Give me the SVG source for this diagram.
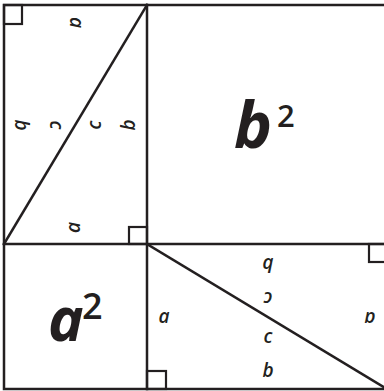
<svg xmlns="http://www.w3.org/2000/svg" width="384" height="391" viewBox="0 0 384 391">
<style>
.ln{fill:none;stroke:#231f20;stroke-width:2.5;stroke-linecap:square}
.ra{fill:none;stroke:#231f20;stroke-width:2.2}
.lbl{font-family:"Open Sans","Noto Sans",sans-serif;font-style:italic;font-weight:600;font-size:19px;fill:#231f20;text-anchor:middle}
.big{font-family:"Open Sans","Noto Sans",sans-serif;font-style:italic;font-weight:700;fill:#231f20}
.sup{font-family:"Open Sans","Noto Sans",sans-serif;font-weight:600;fill:#231f20}
</style>
<rect width="384" height="391" fill="#ffffff"/>
<g id="frame">
<rect class="ln" x="4" y="5" width="383" height="384"/>
<line class="ln" x1="147" y1="5" x2="147" y2="389"/>
<line class="ln" x1="4" y1="244" x2="387" y2="244"/>
</g>
<g id="rect-top-left">
<line class="ln" x1="4" y1="244" x2="147" y2="5"/>
<rect class="ra" x="4" y="5" width="18" height="19"/>
<rect class="ra" x="129" y="227" width="18" height="17"/>
<text class="lbl" x="75" y="27.5" transform="rotate(90 75 22.5)">a</text>
<text class="lbl" x="22" y="132.5" transform="rotate(90 22 125)">b</text>
<text class="lbl" x="55" y="130" transform="rotate(90 55 125)">c</text>
<text class="lbl" x="96" y="130" transform="rotate(-90 96 125)">c</text>
<text class="lbl" x="127" y="132.5" transform="rotate(-90 127 125)">b</text>
<text class="lbl" x="75" y="232.5" transform="rotate(-90 75 227.5)">a</text>
</g>
<g id="square-b2">
<text class="big" x="234" y="148" font-size="64" textLength="40">b</text>
<text class="sup" x="277" y="127" font-size="31">2</text>
</g>
<g id="square-a2">
<text class="big" x="48" y="341" font-size="60">a</text>
<text class="sup" x="82" y="319" font-size="36">2</text>
</g>
<g id="rect-bottom-right">
<line class="ln" x1="147" y1="244" x2="387" y2="389"/>
<rect class="ra" x="147" y="371" width="19" height="18"/>
<rect class="ra" x="369" y="244" width="18" height="18"/>
<text class="lbl" x="268" y="272.5" transform="rotate(180 268 265)">b</text>
<text class="lbl" x="268" y="302" transform="rotate(180 268 297)">c</text>
<text class="lbl" x="370" y="323" transform="rotate(180 370 317.5)">a</text>
<text class="lbl" x="164" y="323">a</text>
<text class="lbl" x="268" y="343">c</text>
<text class="lbl" x="268" y="377">b</text>
</g>
</svg>
